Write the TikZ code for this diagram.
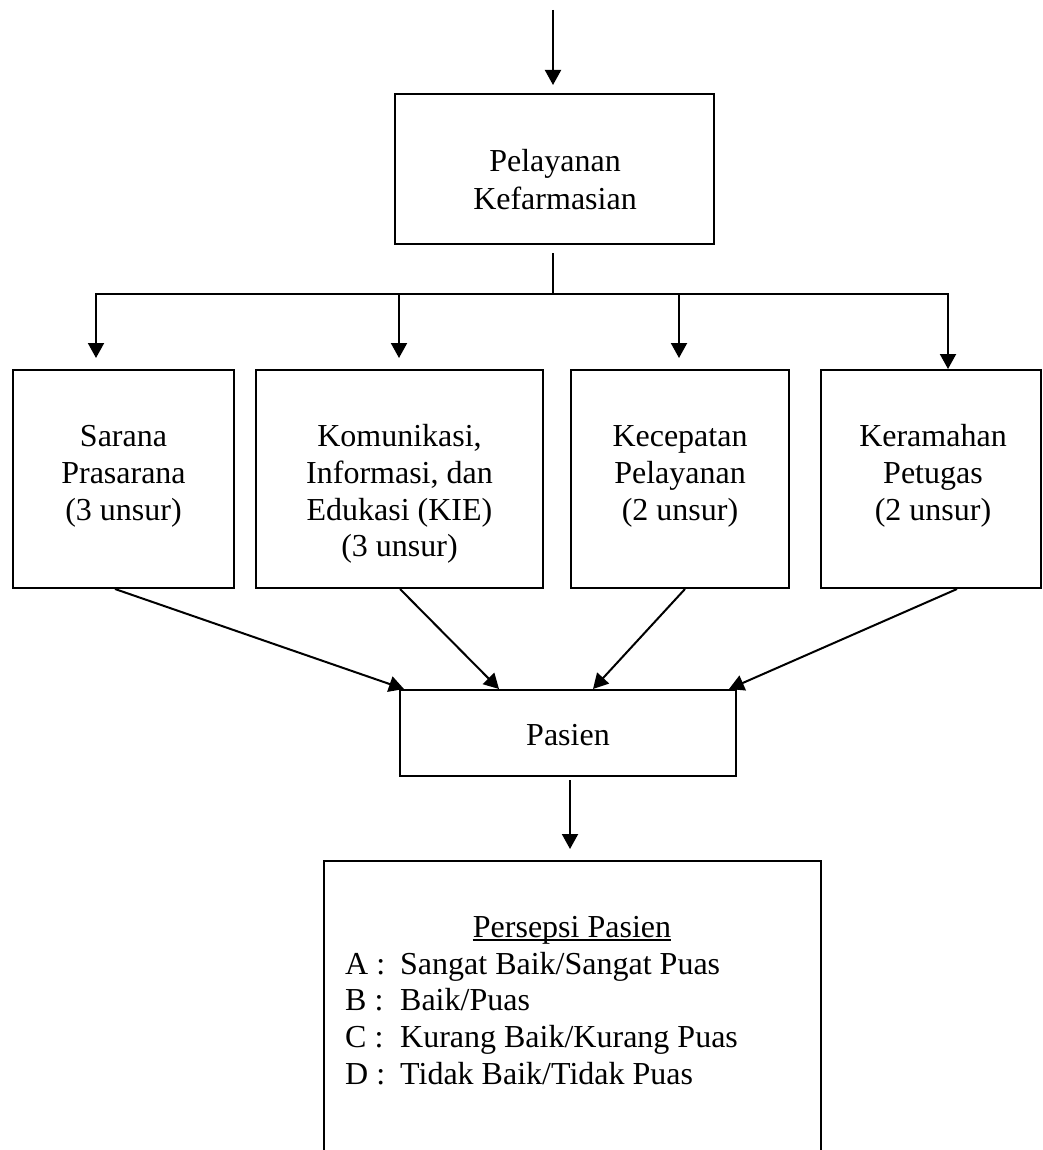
\documentclass[tikz,border=0pt]{standalone}
\usepackage{fontspec}
\setmainfont{Liberation Serif}
\usetikzlibrary{arrows.meta,calc}
\begin{document}
\begin{tikzpicture}[x=1pt,y=-1pt,
  box/.style={draw, line width=2pt, inner sep=0pt},
  lbl/.style={inner sep=0pt, align=center, font=\fontsize{32}{36.6}\selectfont},
  lbll/.style={inner sep=0pt, align=left, font=\fontsize{32}{36.6}\selectfont},
  arr/.style={line width=2pt, -{Triangle[length=15pt,width=16pt]}},
  ln/.style={line width=2pt}]
\useasboundingbox (0,0) rectangle (1043,1150);
\clip (0,0) rectangle (1043,1150);

% boxes
\node[box, minimum width=319pt, minimum height=150pt] (top) at (554.5,169) {};
\node[box, minimum width=221pt, minimum height=218pt] (b1) at (123.5,479) {};
\node[box, minimum width=287pt, minimum height=218pt] (b2) at (399.5,479) {};
\node[box, minimum width=218pt, minimum height=218pt] (b3) at (680,479) {};
\node[box, minimum width=220pt, minimum height=218pt] (b4) at (931,479) {};
\node[box, minimum width=336pt, minimum height=86pt] (pas) at (568,733) {};
\node[box, minimum width=497pt, minimum height=339pt] (res) at (572.5,1030.5) {};

% labels
\node[lbl, anchor=north] (ttop) at (555,145.4) {\strut Pelayanan\\[1.4pt]Kefarmasian};
\node[lbl, anchor=north] (t1) at (123.5,421) {\strut Sarana\\Prasarana\\(3 unsur)};
\node[lbl, anchor=north] (t2) at (399.5,421) {\strut Komunikasi,\\Informasi, dan\\Edukasi (KIE)\\(3 unsur)};
\node[lbl, anchor=north] (t3) at (680,421) {\strut Kecepatan\\Pelayanan\\(2 unsur)};
\node[lbl, anchor=north] (t4) at (933,421) {\strut Keramahan\\Petugas\\(2 unsur)};
\node[lbl, anchor=base] (tpas) at (568,745) {Pasien};
\node[lbl, anchor=base] (tpp) at (572,937) {Persepsi Pasien};
\draw[line width=1.5pt] ([yshift=-3pt]tpp.base west) -- ([yshift=-3pt]tpp.base east);
\node[lbll, anchor=north west] (tlist) at (345,948.4) {\strut\makebox[55pt][l]{A :}Sangat Baik/Sangat Puas\\
\makebox[55pt][l]{B :}Baik/Puas\\
\makebox[55pt][l]{C :}Kurang Baik/Kurang Puas\\
\makebox[55pt][l]{D :}Tidak Baik/Tidak Puas};

% connectors
\coordinate (in) at (553,10);
\coordinate (j) at (553,294);
\coordinate (j1) at (96,294);
\coordinate (j2) at (399,294);
\coordinate (j3) at (679,294);
\coordinate (j4) at (948,294);

\draw[arr] (in) -- ($(in |- top.north)+(0,-8)$);
\draw[ln] ($(j |- top.south)+(0,8)$) -- (j);
\draw[ln, line cap=rect] (j1) -- (j4);
\draw[arr] (j1) -- ($(j1 |- b1.north)+(0,-11)$);
\draw[arr] (j2) -- ($(j2 |- b2.north)+(0,-11)$);
\draw[arr] (j3) -- ($(j3 |- b3.north)+(0,-11)$);
\draw[arr] (j4) -- (j4 |- b4.north);

\draw[arr] ($(b1.south west)+(103,0)$) -- ($(pas.north west)+(5,0)$);
\draw[arr] ($(b2.south)+(0.5,0)$) -- ($(pas.north west)+(100,0)$);
\draw[arr] ($(b3.south)+(5,0)$) -- ($(pas.north west)+(194,0)$);
\draw[arr] ($(b4.south)+(26,0)$) -- ($(pas.north east)+(-8,0)$);

\draw[arr] ($(pas.south)+(2,3)$) -- ($(res.north)+(-2.5,-11)$);
\end{tikzpicture}
\end{document}
